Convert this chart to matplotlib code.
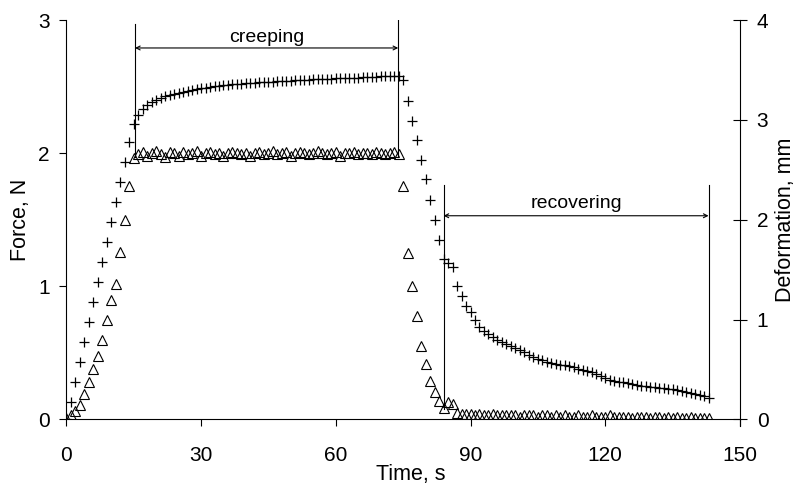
import matplotlib
matplotlib.use("Agg")
import matplotlib.pyplot as plt

plt.rcParams['font.family'] = ['Liberation Sans', 'DejaVu Sans']

# time axis, one sample per second
time_s = list(range(0, 144))

# force (left axis), N
force_n = [
    0.01, 0.03, 0.06, 0.11, 0.19, 0.28, 0.38, 0.48, 0.60, 0.75,
    0.90, 1.02, 1.26, 1.50, 1.75, 1.96, 1.99, 2.01, 1.98, 2.00,
    2.02, 1.99, 1.97, 2.01, 2.00, 1.98, 2.01, 1.99, 2.00, 2.02,
    1.98, 2.00, 2.01, 1.99, 2.00, 1.98, 2.00, 2.01, 2.00, 1.99,
    2.00, 1.98, 2.00, 2.01, 1.99, 2.00, 2.02, 1.99, 2.00,
    2.01, 1.98, 2.00, 2.01, 2.00, 1.99, 2.00, 2.02, 2.00, 1.99,
    2.00, 2.01, 1.98, 2.00, 2.00, 2.01, 1.99, 2.00, 2.00, 1.99,
    2.01, 2.00, 1.99, 2.00, 2.01, 1.99, 1.75, 1.25, 1.00, 0.78,
    0.55, 0.42, 0.29, 0.21, 0.14, 0.09, 0.13, 0.12, 0.05, 0.04,
    0.04, 0.04, 0.03, 0.04, 0.03, 0.03, 0.04, 0.03, 0.03, 0.03,
    0.03, 0.03, 0.02, 0.03, 0.03, 0.03, 0.02, 0.03, 0.03, 0.02,
    0.03, 0.02, 0.03, 0.02, 0.02, 0.03, 0.02, 0.02, 0.03, 0.02,
    0.02, 0.02, 0.03, 0.02, 0.02, 0.02, 0.02, 0.01, 0.02, 0.02,
    0.02, 0.01, 0.02, 0.02, 0.01, 0.02, 0.01, 0.02, 0.01, 0.01,
    0.02, 0.01, 0.01, 0.01, 0.01,
]

# deformation (right axis), mm
deform_mm = [
    0.00, 0.18, 0.38, 0.58, 0.78, 0.98, 1.18, 1.38, 1.58, 1.78,
    1.98, 2.18, 2.38, 2.58, 2.78, 2.96, 3.05, 3.11, 3.15, 3.18,
    3.20, 3.22, 3.24, 3.25, 3.26, 3.27, 3.28, 3.29, 3.30, 3.31,
    3.32, 3.32, 3.33, 3.34, 3.34, 3.35, 3.35, 3.36, 3.36, 3.36,
    3.37, 3.37, 3.37, 3.38, 3.38, 3.38, 3.38, 3.39, 3.39, 3.39,
    3.39, 3.40, 3.40, 3.40, 3.40, 3.41, 3.41, 3.41, 3.41,
    3.41, 3.42, 3.42, 3.42, 3.42, 3.42, 3.42, 3.43, 3.43, 3.43,
    3.43, 3.44, 3.44, 3.44, 3.44, 3.44, 3.40, 3.19, 2.99, 2.80,
    2.60, 2.41, 2.20, 2.00, 1.80, 1.61, 1.57, 1.53, 1.34, 1.24,
    1.14, 1.08, 1.00, 0.93, 0.89, 0.86, 0.83, 0.80, 0.78, 0.76,
    0.74, 0.72, 0.70, 0.68, 0.65, 0.63, 0.61, 0.60, 0.58, 0.57,
    0.56, 0.55, 0.55, 0.54, 0.53, 0.51, 0.50, 0.49, 0.48, 0.46,
    0.44, 0.42, 0.40, 0.39, 0.38, 0.38, 0.37, 0.36, 0.35, 0.34,
    0.34, 0.33, 0.33, 0.32, 0.32, 0.31, 0.31, 0.30, 0.29, 0.28,
    0.27, 0.26, 0.25, 0.24, 0.22,
]

x_ticks = [0, 30, 60, 90, 120, 150]
force_ticks = [0, 1, 2, 3]
deform_ticks = [0, 1, 2, 3, 4]

fig = plt.figure(figsize=(7.95, 4.88), dpi=100)
ax = fig.add_axes([0.0834, 0.1404, 0.8474, 0.8186])
ax2 = ax.twinx()

ax.plot(time_s, force_n, linestyle='none', marker='^', markersize=6.5,
        markerfacecolor='none', markeredgecolor='black', markeredgewidth=0.8)
ax2.plot(time_s, deform_mm, linestyle='none', marker='+', markersize=6.5,
         color='black', markeredgewidth=0.9)

ax.set_xlim(0, 150)
ax.set_ylim(0, 3)
ax2.set_ylim(0, 4)
ax.set_xticks(x_ticks)
ax.set_yticks(force_ticks)
ax2.set_yticks(deform_ticks)

for a in (ax, ax2):
    a.spines['top'].set_visible(False)
    for s in a.spines.values():
        s.set_linewidth(0.8)
ax.spines['right'].set_visible(False)
ax2.spines['left'].set_visible(False)
ax2.spines['bottom'].set_visible(False)
# right spine runs a little below zero as in the reference
ax2.spines['right'].set_bounds(-0.07, 4)

ax.tick_params(axis='x', direction='out', length=5, width=0.8, labelsize=15, pad=14)
ax.tick_params(axis='y', direction='out', length=5, width=0.8, labelsize=15, pad=7)
ax2.tick_params(axis='y', direction='inout', length=10, width=0.8, labelsize=15, pad=7)

ax.set_xlabel('Time, s', fontsize=15.5, labelpad=4)
ax.xaxis.set_label_coords(0.512, -0.112)
ax.set_ylabel('Force, N', fontsize=15.5, labelpad=5)
ax2.set_ylabel('Deformation, mm', fontsize=15.5, labelpad=5)

# creeping annotation
ax.plot([15.3, 15.3], [1.97, 2.97], color='black', lw=0.8)
ax.plot([73.9, 73.9], [1.97, 3.0], color='black', lw=0.8)
ax.annotate('', xy=(15.3, 2.79), xytext=(73.9, 2.79),
            arrowprops=dict(arrowstyle='<->', lw=0.8, color='black',
                            shrinkA=0, shrinkB=0, mutation_scale=7))
ax.text(44.6, 2.835, 'creeping', ha='center', va='baseline', fontsize=14)

# recovering annotation
ax.plot([84.0, 84.0], [0.08, 1.76], color='black', lw=0.8)
ax.plot([143.0, 143.0], [0.15, 1.76], color='black', lw=0.8)
ax.annotate('', xy=(84.0, 1.53), xytext=(143.0, 1.53),
            arrowprops=dict(arrowstyle='<->', lw=0.8, color='black',
                            shrinkA=0, shrinkB=0, mutation_scale=7))
ax.text(113.5, 1.585, 'recovering', ha='center', va='baseline', fontsize=14)

fig.savefig('out.png', dpi=100)
